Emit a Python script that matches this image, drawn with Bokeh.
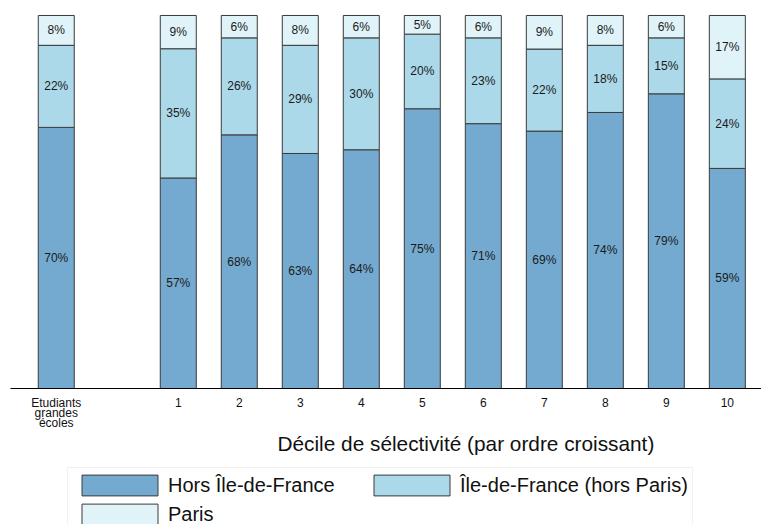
from bokeh.plotting import figure
from bokeh.layouts import column
from bokeh.models import (ColumnDataSource, Range1d, FixedTicker, Legend, LegendItem, Title)
from bokeh.core.properties import value
from bokeh.embed import file_html
from bokeh.resources import INLINE

categories = ["Etudiants\ngrandes\nécoles", "1", "2", "3", "4", "5", "6", "7", "8", "9", "10"]
hors_idf = [70, 57, 68, 63, 64, 75, 71, 69, 74, 79, 59]
idf_hors_paris = [22, 35, 26, 29, 30, 20, 23, 22, 18, 15, 24]
paris = [8, 9, 6, 8, 6, 5, 6, 9, 8, 6, 17]
series_names = ["Hors Île-de-France", "Île-de-France (hors Paris)", "Paris"]
colors = ["#74aad0", "#acd9e9", "#e0f3f8"]
x_title = "Décile de sélectivité (par ordre croissant)"

FONT = "Liberation Sans"
OUTLINE = "#3a3a3a"

# x positions: first bar, then a gap, then deciles
xs = [0] + [i + 2 for i in range(len(categories) - 1)]
totals = [a + b + c for a, b, c in zip(hors_idf, idf_hors_paris, paris)]
s1 = [a / t * 100 for a, t in zip(hors_idf, totals)]
s2 = [b / t * 100 for b, t in zip(idf_hors_paris, totals)]
s3 = [c / t * 100 for c, t in zip(paris, totals)]

src = ColumnDataSource(dict(x=xs, s1=s1, s2=s2, s3=s3))

p = figure(width=761, height=465, output_backend="svg", toolbar_location=None,
           x_range=Range1d(-0.75, 11.56), y_range=Range1d(0, 102.14))
p.min_border_top = 7
p.min_border_left = 10
p.min_border_right = 0
p.min_border_bottom = 77
p.outline_line_color = None
p.xgrid.visible = False
p.ygrid.visible = False
p.yaxis.visible = False

rs = p.vbar_stack(["s1", "s2", "s3"], x="x", width=0.59, source=src,
                  fill_color=colors, line_color=OUTLINE, line_width=1)

# labels
lx, ly, lt = [], [], []
for i, x in enumerate(xs):
    base = 0
    for share, raw in ((s1[i], hors_idf[i]), (s2[i], idf_hors_paris[i]), (s3[i], paris[i])):
        lx.append(x)
        ly.append(base + share / 2)
        lt.append(f"{raw}%")
        base += share
p.text(x=lx, y=ly, text=lt, text_align="center", text_baseline="middle",
       text_font=value(FONT), text_font_size="12px", text_color="#1a1a1a")

ax = p.xaxis[0]
ax.ticker = FixedTicker(ticks=xs)
ax.major_label_overrides = {x: c for x, c in zip(xs, categories)}
ax.major_tick_line_color = None
ax.minor_tick_line_color = None
ax.axis_line_color = "#000000"
ax.axis_line_width = 1
ax.major_label_text_font = FONT
ax.major_label_text_font_size = "12px"
ax.major_label_text_line_height = 0.72
ax.major_label_text_color = "#111111"
ax.major_label_standoff = 1

p.add_layout(Title(text=x_title, align="left", offset=267, vertical_align="top",
                   standoff=-2, text_font=FONT, text_font_size="20.8px", text_font_style="normal",
                   text_color="#111111"), "below")

# legend panel (same bars, placed outside its visible range, so only the legend shows)
pl = figure(width=761, height=59, output_backend="svg", toolbar_location=None,
            x_range=Range1d(-0.75, 11.56), y_range=Range1d(200, 201),
            x_axis_type=None, y_axis_type=None)
pl.min_border_left = 10
pl.min_border_right = 0
pl.min_border_top = 0
pl.min_border_bottom = 0
pl.outline_line_color = None
pl.xgrid.visible = False
pl.ygrid.visible = False
lrs = pl.vbar_stack(["s1", "s2", "s3"], x="x", width=0.59, source=src,
                    fill_color=colors, line_color=OUTLINE, line_width=1)

legend = Legend(items=[LegendItem(label=n, renderers=[r]) for n, r in zip(series_names, lrs)],
                location=(57, -8), orientation="horizontal", ncols=2, margin=0,
                label_text_font=FONT, label_text_font_size="20px", label_text_color="#111111",
                glyph_width=95, glyph_height=26, label_standoff=1, label_width=193,
                spacing=3, padding=4,
                border_line_color="#e4e4e4", background_fill_alpha=1.0)
pl.add_layout(legend, "center")

layout = column(p, pl, spacing=0)
open("out.html", "w").write(file_html(layout, INLINE))
